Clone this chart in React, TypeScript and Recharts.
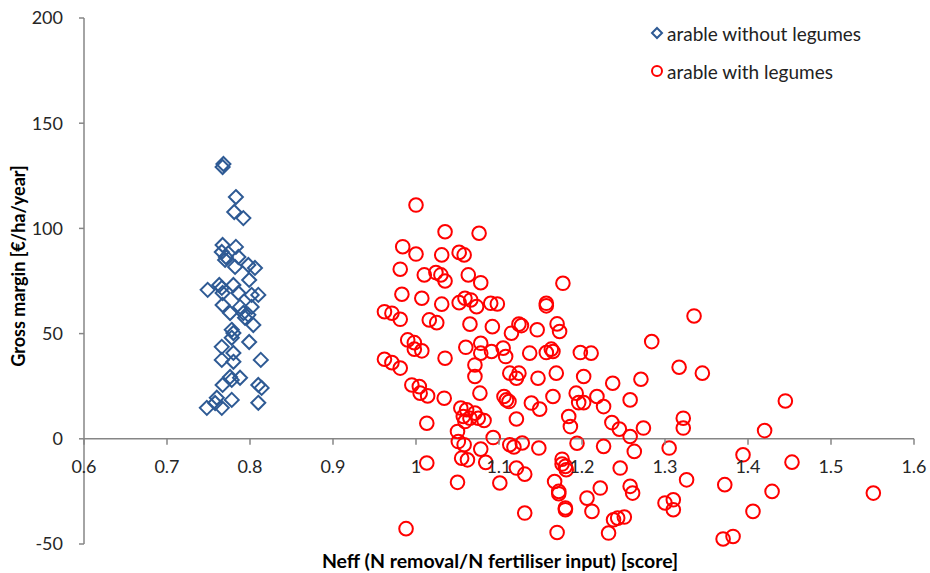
import React from 'react'
import { ScatterChart, Scatter, XAxis, YAxis, ReferenceLine, Legend } from 'recharts'

// [Neff score, gross margin €/ha/year]
const arableWithoutLegumes: [number, number][] = [
  [0.768, 130.6], [0.767, 129.2], [0.783, 114.9], [0.781, 107.8], [0.792, 104.9],
  [0.767, 92.1], [0.783, 91.2], [0.766, 88.8], [0.771, 86.4], [0.786, 86.4],
  [0.77, 85.0], [0.782, 81.7], [0.798, 82.6], [0.806, 81.2], [0.799, 75.5],
  [0.749, 70.8], [0.763, 73.1], [0.766, 71.7], [0.78, 73.1], [0.786, 69.3],
  [0.802, 68.4], [0.81, 68.4], [0.767, 69.3], [0.767, 63.6], [0.788, 62.7],
  [0.802, 62.7], [0.776, 59.8], [0.792, 59.8], [0.794, 57.5], [0.804, 54.1],
  [0.798, 58.9], [0.778, 51.8], [0.78, 50.3], [0.778, 48.0], [0.799, 46.0],
  [0.766, 43.7], [0.78, 40.8], [0.766, 37.5], [0.78, 36.6], [0.813, 37.5],
  [0.776, 29.4], [0.778, 28.0], [0.788, 29.0], [0.767, 25.6], [0.81, 25.6],
  [0.814, 24.2], [0.76, 19.5], [0.778, 18.5], [0.81, 17.1], [0.748, 14.7],
  [0.766, 14.7], [0.758, 17.0],
]

const arableWithLegumes: [number, number][] = [
  [1.0, 111.1], [1.035, 98.4], [1.076, 97.7], [0.984, 91.3], [1.0, 87.8],
  [1.031, 87.4], [1.052, 88.6], [1.058, 87.4], [0.981, 80.6], [1.01, 77.9],
  [1.024, 79.0], [1.03, 77.9], [1.035, 75.0], [1.063, 77.9], [1.078, 74.2],
  [0.983, 68.7], [1.007, 66.8], [1.031, 64.0], [1.052, 64.7], [1.059, 66.8],
  [1.066, 66.0], [1.073, 62.8], [1.09, 64.4], [1.098, 64.1], [1.157, 64.4],
  [1.157, 63.2], [0.962, 60.4], [0.971, 59.7], [0.981, 56.8], [1.016, 56.5],
  [1.025, 55.2], [1.065, 54.5], [1.092, 53.3], [1.115, 50.2], [1.124, 54.5],
  [1.127, 53.8], [1.146, 51.8], [1.17, 54.6], [1.173, 51.0], [0.99, 47.0],
  [0.998, 45.7], [0.998, 42.6], [1.007, 41.8], [1.035, 38.3], [1.06, 43.5],
  [1.078, 45.4], [1.078, 40.7], [1.091, 41.5], [1.105, 43.1], [1.108, 39.1],
  [1.137, 40.7], [1.157, 41.0], [1.163, 42.6], [1.165, 41.5], [0.962, 37.8],
  [0.971, 36.2], [0.981, 33.6], [1.071, 35.1],
  [1.071, 29.6], [1.113, 31.2], [1.124, 31.2], [1.121, 28.8], [1.147, 28.8],
  [1.169, 31.2], [0.995, 25.6], [1.004, 24.8], [1.005, 21.7], [1.014, 20.4],
  [1.034, 19.3], [1.077, 21.7], [1.106, 20.1], [1.109, 18.5], [1.112, 17.7],
  [1.139, 17.0], [1.149, 14.1], [1.165, 20.1], [1.054, 14.6], [1.061, 13.8],
  [1.057, 10.6], [1.065, 9.8], [1.071, 12.2], [1.075, 9.8], [1.082, 8.7],
  [1.059, 8.2], [1.121, 9.4], [1.013, 7.4], [1.05, 3.5], [1.093, 0.6],
  [1.051, -1.3], [1.058, -2.8], [1.113, -2.8], [1.118, -3.9], [1.128, -2.0],
  [1.148, -4.4], [1.078, -4.9], [1.055, -9.2], [1.062, -10.0], [1.084, -11.2],
  [1.013, -11.5], [1.121, -13.9], [1.131, -16.8], [1.05, -20.7], [1.101, -21.0],
  [1.131, -35.3], [0.988, -42.7],
  [1.177, 73.9], [1.335, 58.4], [1.284, 46.2], [1.198, 41.0], [1.211, 40.7],
  [1.202, 29.6], [1.237, 26.4], [1.271, 28.3], [1.317, 34.0], [1.345, 31.2],
  [1.193, 21.7], [1.218, 20.1], [1.258, 18.5],
  [1.196, 17.2], [1.202, 17.2], [1.226, 15.3], [1.184, 10.6], [1.186, 5.8],
  [1.236, 7.7], [1.245, 4.6], [1.258, 1.1], [1.274, 5.1], [1.322, 9.8],
  [1.322, 5.1], [1.194, -2.1], [1.226, -3.6], [1.263, -6.0], [1.305, -4.4],
  [1.176, -9.7], [1.18, -13.1], [1.181, -14.7], [1.176, -12.0], [1.246, -13.9],
  [1.326, -19.5], [1.372, -21.8], [1.167, -20.3], [1.172, -25.0], [1.172, -26.1],
  [1.222, -23.4], [1.258, -22.6], [1.261, -25.8], [1.206, -28.2], [1.18, -32.9],
  [1.18, -33.7], [1.212, -34.5], [1.3, -30.5], [1.31, -29.0], [1.31, -33.7],
  [1.238, -38.5], [1.243, -37.7], [1.251, -37.2], [1.232, -44.8], [1.17, -44.5],
  [1.37, -47.6], [1.382, -46.4],
  [1.445, 18.0], [1.42, 3.9], [1.394, -7.6], [1.453, -11.1], [1.429, -25.0],
  [1.551, -25.8], [1.406, -34.5],
]

const xTicks = [0.6, 0.7, 0.8, 0.9, 1.0, 1.1, 1.2, 1.3, 1.4, 1.5, 1.6]
const yTicks = [-50, 0, 50, 100, 150, 200]

const W = 930
const H = 573
const X_AXIS_H = 29
const MARGIN = { top: 18, right: 16, bottom: 0, left: 24 }
const Y_AXIS_W = 60
const Y_MIN = -50
const Y_MAX = 200

const FONT = 'Lato, "Open Sans", sans-serif'
const AXIS_GREY = '#868686'
const BLUE = '#2E5A94'
const RED = '#FF0000'

// the horizontal axis crosses at y = 0, not at the bottom of the plot
const PLOT_H = H - MARGIN.top - MARGIN.bottom - X_AXIS_H
const ZERO_SHIFT = (PLOT_H * (0 - Y_MIN)) / (Y_MAX - Y_MIN)

const toPoints = (rows: [number, number][]) => rows.map(([x, y]) => ({ x, y }))

const Diamond = ({ cx, cy }: any) => (
  <path
    d={`M${cx},${cy - 7}L${cx + 7},${cy}L${cx},${cy + 7}L${cx - 7},${cy}Z`}
    fill="none" stroke={BLUE} strokeWidth={2}
  />
)

const Ring = ({ cx, cy }: any) => (
  <circle cx={cx} cy={cy} r={6.8} fill="none" stroke={RED} strokeWidth={2} />
)

const XTick = ({ x, y, payload }: any) => {
  const zy = y - ZERO_SHIFT
  return (
    <g>
      <line x1={x} x2={x} y1={zy} y2={zy + 6} stroke={AXIS_GREY} strokeWidth={1.5} />
      <text x={x} y={zy + 34} textAnchor="middle" fontSize={18} fill="#262626" fontFamily={FONT}>
        {`${+payload.value.toFixed(1)}`}
      </text>
    </g>
  )
}

const YTitle = () => (
  <text
    x={25} y={266} transform="rotate(-90 25 266)" textAnchor="middle"
    fontSize={18} fontWeight={700} fill="#000" fontFamily={FONT}
  >
    Gross margin [€/ha/year]
  </text>
)

const XTitle = () => (
  <text x={500} y={568} textAnchor="middle" fontSize={19.5} fontWeight={700} fill="#000" fontFamily={FONT}>
    Neff (N removal/N fertiliser input) [score]
  </text>
)

const LegendBox = () => (
  <div style={{ fontFamily: FONT, fontSize: 19, color: '#222', lineHeight: 1 }}>
    <div style={{ display: 'flex', alignItems: 'center', height: 38 }}>
      <svg width={14} height={14}>
        <path d="M7,2L12,7L7,12L2,7Z" fill="none" stroke={BLUE} strokeWidth={2} />
      </svg>
      <span style={{ marginLeft: 3 }}>arable without legumes</span>
    </div>
    <div style={{ display: 'flex', alignItems: 'center', height: 38 }}>
      <svg width={14} height={14}>
        <circle cx={7} cy={7} r={5} fill="none" stroke={RED} strokeWidth={2} />
      </svg>
      <span style={{ marginLeft: 3 }}>arable with legumes</span>
    </div>
  </div>
)

export default function App() {
  return (
    <div style={{ width: W, height: H, background: '#fff' }}>
      <style>{'body{margin:0}'}</style>
      <ScatterChart width={W} height={H} margin={MARGIN}>
        <XAxis
          type="number" dataKey="x" domain={[0.6, 1.6]} ticks={xTicks}
          height={X_AXIS_H} axisLine={false} tickLine={false} tickSize={0} tickMargin={0}
          tick={<XTick />} interval={0} allowDataOverflow
          label={<XTitle />}
        />
        <YAxis
          type="number" dataKey="y" domain={[Y_MIN, Y_MAX]} ticks={yTicks} width={Y_AXIS_W}
          axisLine={{ stroke: AXIS_GREY, strokeWidth: 1.5 }}
          tickLine={{ stroke: AXIS_GREY, strokeWidth: 1.5 }} tickSize={5} tickMargin={16}
          tick={{ fontSize: 18, fill: '#262626', fontFamily: FONT }} interval={0}
          label={<YTitle />}
        />
        <ReferenceLine y={0} stroke={AXIS_GREY} strokeWidth={1.5} />
        <Legend
          content={<LegendBox />} layout="vertical" verticalAlign="middle" align="center"
          wrapperStyle={{ top: 14, left: 650, width: 260 }}
        />
        <Scatter name="arable without legumes" data={toPoints(arableWithoutLegumes)} shape={<Diamond />} isAnimationActive={false} />
        <Scatter name="arable with legumes" data={toPoints(arableWithLegumes)} shape={<Ring />} isAnimationActive={false} />
      </ScatterChart>
    </div>
  )
}
